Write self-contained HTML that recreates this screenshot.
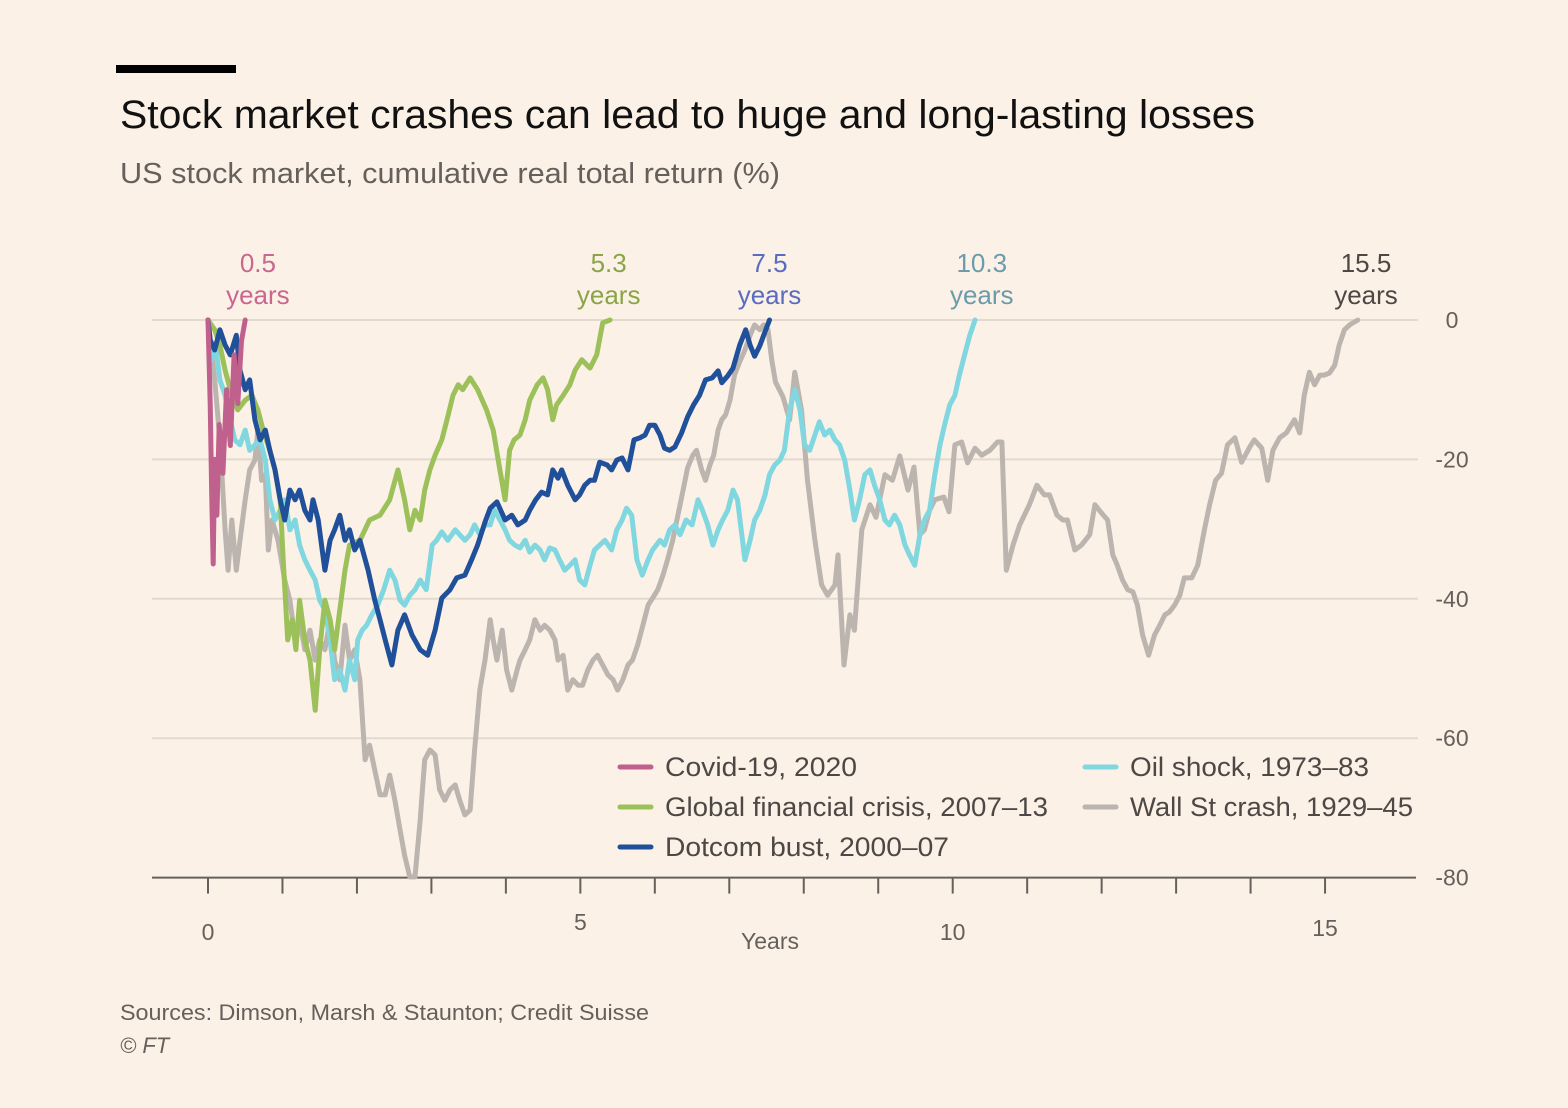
<!DOCTYPE html>
<html><head><meta charset="utf-8"><style>
html,body{margin:0;padding:0;background:#fcf1e6;}
svg{display:block;font-family:"Liberation Sans",sans-serif;}
</style></head><body>
<svg id="chart" width="1568" height="1108" viewBox="0 0 1568 1108">
<rect x="0" y="0" width="1568" height="1108" fill="#fcf1e6"/>
<rect x="116" y="65" width="120" height="8" fill="#000"/>
<text x="120" y="128" font-size="40" fill="#111" textLength="1135" lengthAdjust="spacingAndGlyphs">Stock market crashes can lead to huge and long-lasting losses</text>
<text x="120" y="183" font-size="29" fill="#66605c" textLength="660" lengthAdjust="spacingAndGlyphs">US stock market, cumulative real total return (%)</text>
<g id="grid"></g>
<g id="axis"></g>
<g id="series"></g>
<g id="ann"></g>
<g id="legend"></g>
<text x="120" y="1020" font-size="22" fill="#66605c" textLength="529" lengthAdjust="spacingAndGlyphs">Sources: Dimson, Marsh &amp; Staunton; Credit Suisse</text>
<text x="120" y="1053" font-size="22" fill="#66605c" font-style="italic">© FT</text>
</svg>
<script>
const yTicks=[0,-20,-40,-60,-80];
const xTicks=[0,5,10,15];
const covidX=[0,0.03,0.05,0.07,0.09,0.12,0.15,0.2,0.25,0.3,0.35,0.4,0.45,0.5];
const covidY=[0,-12,-25,-35,-20,-28,-15,-22,-10,-18,-5,-12,-3,0];
const gfcX=[0,.09,.16,.23,.30,.40,.50,.59,.67,.74,.83,.90,.97,1.01,1.07,1.13,1.18,1.23,1.30,1.37,1.44,1.50,1.57,1.64,1.70,1.77,1.84,1.90,2.04,2.17,2.31,2.44,2.55,2.64,2.71,2.78,2.85,2.91,2.98,3.05,3.14,3.21,3.29,3.36,3.42,3.52,3.62,3.74,3.83,3.92,3.99,4.05,4.11,4.19,4.26,4.32,4.42,4.50,4.56,4.63,4.68,4.77,4.86,4.93,5.02,5.13,5.22,5.30,5.40];
const gfcY=[0,-1.4,-3.6,-7.2,-10,-12.9,-11.5,-10.8,-12.9,-15.8,-18.7,-21.5,-25.8,-34.4,-45.9,-43,-47.3,-40.2,-45.9,-48.8,-56,-47.3,-40.2,-43,-47.3,-41.6,-35.9,-32.3,-31.6,-28.7,-28,-25.8,-21.5,-25.8,-30.1,-27.3,-28.7,-24.4,-21.5,-19.4,-17.2,-14.3,-10.8,-9.3,-10,-8.3,-10,-12.9,-15.8,-21.5,-25.8,-18.7,-17.2,-16.5,-14.3,-11.5,-9.3,-8.3,-10,-14.3,-12.2,-10.8,-9.3,-7.2,-5.7,-6.9,-5,-0.4,0];
const dotX=[0,.03,.09,.16,.23,.30,.38,.43,.50,.56,.63,.70,.77,.83,.90,.97,1.03,1.10,1.17,1.23,1.30,1.37,1.41,1.48,1.57,1.64,1.70,1.77,1.84,1.90,1.97,2.04,2.15,2.24,2.31,2.38,2.47,2.55,2.64,2.74,2.85,2.95,3.05,3.14,3.25,3.34,3.45,3.54,3.62,3.72,3.79,3.88,3.99,4.08,4.16,4.26,4.32,4.40,4.48,4.56,4.63,4.70,4.75,4.83,4.93,4.99,5.06,5.13,5.19,5.26,5.36,5.42,5.49,5.56,5.64,5.72,5.80,5.87,5.93,6.00,6.07,6.13,6.20,6.27,6.36,6.44,6.52,6.60,6.68,6.77,6.85,6.90,6.98,7.05,7.14,7.22,7.28,7.34,7.41,7.48,7.54];
const dotY=[0,-2.9,-4.3,-1.4,-3.6,-5,-2.2,-7.2,-10,-8.6,-14.3,-17.2,-15.8,-18.7,-21.5,-25.8,-28.7,-24.4,-25.8,-24.4,-27.3,-28.7,-25.8,-28.7,-35.9,-31.6,-30.1,-28,-31.6,-30.1,-33,-31.6,-35.9,-40.2,-43,-45.9,-49.5,-44.5,-42.3,-45.2,-47.3,-48.1,-44.5,-39.9,-38.7,-37,-36.6,-34.4,-32.3,-29,-27,-26.1,-28.7,-28,-29.4,-28.7,-27.3,-25.8,-24.7,-25.1,-21.5,-22.7,-21.5,-23.7,-25.8,-25.1,-23.7,-23,-23,-20.4,-20.8,-21.5,-20.1,-19.8,-21.5,-17.2,-16.9,-16.5,-15.1,-15.1,-16.5,-18.4,-18.7,-18.2,-16.2,-13.9,-12.2,-10.8,-8.6,-8.3,-7.3,-9,-8,-6.9,-3.6,-1.4,-3.6,-5.2,-3.7,-1.7,0];
const oilX=[0,.05,.11,.16,.23,.30,.36,.43,.50,.56,.63,.70,.77,.83,.90,.97,1.03,1.10,1.17,1.23,1.30,1.37,1.44,1.50,1.57,1.64,1.70,1.77,1.84,1.90,1.97,2.01,2.07,2.13,2.20,2.28,2.36,2.44,2.51,2.58,2.64,2.71,2.78,2.85,2.93,3.01,3.07,3.14,3.22,3.32,3.38,3.45,3.52,3.58,3.65,3.72,3.79,3.85,3.92,3.99,4.05,4.12,4.19,4.26,4.32,4.39,4.46,4.52,4.59,4.66,4.72,4.79,4.86,4.93,4.99,5.06,5.13,5.19,5.26,5.33,5.42,5.49,5.56,5.62,5.69,5.76,5.83,5.91,5.97,6.07,6.13,6.20,6.27,6.34,6.42,6.50,6.58,6.64,6.71,6.78,6.85,6.91,6.98,7.05,7.11,7.21,7.28,7.34,7.41,7.48,7.54,7.61,7.68,7.74,7.81,7.88,7.95,8.01,8.08,8.15,8.21,8.28,8.35,8.42,8.48,8.55,8.62,8.68,8.75,8.82,8.89,8.95,9.02,9.09,9.15,9.22,9.29,9.36,9.42,9.49,9.56,9.62,9.69,9.76,9.83,9.89,9.96,10.03,10.09,10.16,10.23,10.30];
const oilY=[0,-5.7,-4.3,-8.6,-10.8,-14.3,-17.2,-17.9,-15.8,-18.7,-17.9,-17.2,-20.1,-25.8,-28.7,-27.3,-25.8,-30.1,-28.7,-32.3,-34.4,-35.9,-37.3,-40.2,-41.6,-45.9,-51.6,-50.2,-53.1,-48.8,-51.6,-45.9,-44.5,-43.8,-42.3,-40.9,-38.7,-35.9,-37.3,-40.2,-40.9,-39.5,-38.7,-37.3,-38.7,-32.3,-31.6,-30.4,-31.6,-30.1,-30.8,-31.6,-30.8,-29.4,-30.8,-29.4,-29.4,-27.3,-28.7,-30.1,-31.6,-32.3,-32.7,-31.6,-33.3,-32.3,-33,-34.4,-32.7,-33,-34.4,-35.9,-35.2,-34.4,-37.3,-38,-35.2,-33,-32.3,-31.6,-33,-30.1,-28.7,-27,-28,-34.4,-36.6,-34.4,-33,-31.6,-32.3,-30.1,-29.4,-30.8,-28.7,-29.4,-25.8,-27.3,-29.4,-32.3,-30.1,-28.7,-27.3,-24.4,-25.8,-34.4,-31.6,-28.7,-27.3,-25.1,-22.2,-20.8,-20.1,-18.7,-12.9,-10,-12.9,-17.9,-18.7,-16.5,-14.6,-16.5,-15.8,-17.2,-17.9,-20.1,-24.4,-28.7,-25.8,-22.2,-21.5,-23.7,-25.8,-28.7,-29.4,-28,-29.4,-32.3,-33.7,-35.2,-30.8,-28.7,-27.3,-22.2,-17.9,-15.1,-12.2,-10.8,-7.9,-5,-2.2,0];
const wallX=[0,.09,.16,.23,.27,.32,.38,.43,.50,.56,.63,.67,.72,.77,.81,.86,.94,1.03,1.10,1.17,1.23,1.30,1.37,1.44,1.50,1.57,1.64,1.70,1.77,1.84,1.90,1.97,2.04,2.11,2.17,2.24,2.31,2.38,2.44,2.51,2.58,2.64,2.71,2.78,2.85,2.91,2.98,3.05,3.11,3.18,3.25,3.32,3.38,3.45,3.52,3.58,3.65,3.72,3.79,3.83,3.88,3.95,4.01,4.08,4.15,4.19,4.26,4.32,4.39,4.46,4.52,4.59,4.66,4.70,4.77,4.83,4.90,4.97,5.03,5.10,5.17,5.23,5.30,5.37,5.44,5.50,5.57,5.64,5.70,5.77,5.84,5.91,5.97,6.04,6.11,6.17,6.24,6.31,6.38,6.44,6.51,6.56,6.63,6.68,6.74,6.79,6.85,6.90,6.95,7.01,7.07,7.14,7.21,7.28,7.34,7.41,7.46,7.52,7.57,7.62,7.72,7.81,7.88,7.97,8.05,8.15,8.24,8.32,8.42,8.46,8.54,8.62,8.68,8.78,8.89,8.97,9.09,9.19,9.29,9.40,9.48,9.56,9.62,9.69,9.76,9.88,9.95,10.03,10.12,10.20,10.30,10.39,10.50,10.60,10.66,10.72,10.81,10.90,11.03,11.13,11.23,11.30,11.40,11.48,11.54,11.64,11.73,11.84,11.91,12.00,12.08,12.15,12.21,12.28,12.35,12.42,12.48,12.55,12.63,12.71,12.78,12.85,12.91,12.98,13.05,13.11,13.21,13.29,13.38,13.45,13.53,13.61,13.69,13.79,13.88,13.99,14.05,14.15,14.23,14.30,14.39,14.48,14.52,14.59,14.66,14.72,14.79,14.86,14.93,14.99,15.06,15.13,15.19,15.26,15.33,15.44];
const wallY=[0,-8.6,-17.2,-30.1,-35.9,-28.7,-35.9,-31.6,-25.8,-21.5,-20.1,-15.8,-23,-22.2,-33,-28.7,-31.6,-37.3,-40.2,-45.9,-43,-47.3,-44.5,-48.8,-45.9,-47.3,-43,-48.8,-51.6,-43.8,-48.8,-47.3,-51.6,-63.1,-61,-64.6,-68.1,-68.1,-65.3,-68.9,-73.2,-76.8,-79.9,-79.9,-71.7,-63.1,-61.7,-62.4,-67.4,-68.9,-67.4,-66.7,-68.9,-71,-70.3,-61.7,-53.1,-48.8,-43,-45.9,-48.8,-44.5,-50.2,-53.1,-50.2,-48.8,-47.3,-45.9,-43,-44.5,-43.8,-44.5,-45.9,-48.8,-48.1,-53.1,-51.6,-52.4,-52.4,-50.2,-48.8,-48.1,-49.5,-50.9,-51.6,-53.1,-51.6,-49.5,-48.8,-46.6,-43.8,-40.9,-39.9,-38.7,-36.6,-34.4,-31.6,-28,-24.4,-21.2,-19.4,-18.7,-21.5,-23,-20.8,-19.4,-15.8,-14.3,-13.6,-11.5,-7.9,-6,-4.3,-2.2,-0.7,-1.4,-0.7,-1.4,-5.7,-8.9,-11,-14.3,-7.5,-12.9,-23,-31.6,-38,-39.5,-38,-33.7,-49.5,-42.3,-44.5,-30.1,-26.5,-28.3,-22.2,-23,-19.5,-24.4,-21.1,-30.8,-30.1,-27.3,-25.8,-25.4,-27.5,-17.9,-17.5,-20.5,-18.4,-19.4,-18.7,-17.5,-17.5,-35.9,-32.3,-29.4,-26.5,-23.7,-25.1,-25.1,-28,-28.7,-28.7,-33,-32.3,-30.8,-26.5,-27.7,-28.7,-33.7,-35.2,-37.3,-38.7,-39,-40.9,-45.2,-48.1,-45.2,-43.8,-42.3,-41.9,-40.9,-39.5,-37,-37,-35.2,-30.1,-26.5,-23,-22,-17.9,-16.9,-20.4,-18.2,-17.2,-18.4,-23,-18.7,-16.9,-16.2,-15.5,-14.3,-16.2,-10.8,-7.5,-9.3,-7.9,-7.9,-7.6,-6.5,-3.6,-1.4,-0.7,0];
const recoveryYears=["0.5","5.3","7.5","10.3","15.5"];
const recoveryLabelAt=[0.67,5.38,7.54,10.39,15.55];

const NS="http://www.w3.org/2000/svg";
const X0=208,PXY=74.47,Y0=320,PXV=6.97;
function sx(v){return X0+v*PXY;}
function sy(v){return Y0-v*PXV;}
function mk(tag,attrs,parent,txt){const e=document.createElementNS(NS,tag);for(const k in attrs)e.setAttribute(k,attrs[k]);if(txt!==undefined)e.textContent=txt;parent.appendChild(e);return e;}
const grid=document.getElementById('grid'),axis=document.getElementById('axis'),ser=document.getElementById('series'),ann=document.getElementById('ann'),leg=document.getElementById('legend');
yTicks.forEach(t=>{
  if(t>-80){const l=mk('line',{x1:152,x2:1418,y1:sy(t),y2:sy(t),stroke:'#e2d9cf','stroke-width':2},grid);
  
  }
  const tx=mk('text',{x:1452,y:sy(t)+8,'font-size':23,fill:'#66605c','text-anchor':'middle'},grid,String(t));
  
  
});
const base=mk('line',{x1:152,x2:1416,y1:sy(-80),y2:sy(-80),stroke:'#66605c','stroke-width':2},axis);


for(let i=0;i<=15;i++){
  const tk=mk('line',{x1:sx(i),x2:sx(i),y1:sy(-80),y2:sy(-80)+16,stroke:'#66605c','stroke-width':2},axis);
  
  
}
const xLabOff=[0,-10,0,-4];
xTicks.forEach((t,i)=>{
  const tx=mk('text',{x:sx(t),y:940+xLabOff[i],'font-size':23,fill:'#66605c','text-anchor':'middle'},axis,String(t));
  
  
});
const xt=mk('text',{x:770,y:949,'font-size':23,fill:'#66605c','text-anchor':'middle'},axis,'Years');



function line(xs,ys,color,name){
  const d=xs.map((x,i)=>(i?'L':'M')+sx(x).toFixed(1)+','+sy(ys[i]).toFixed(1)).join('');
  const p=mk('path',{d:d,fill:'none',stroke:color,'stroke-width':5,'stroke-linejoin':'round','stroke-linecap':'round'},ser);
  
  
}
line(wallX,wallY,'#bcb4ae','wall-st-crash-line');
line(oilX,oilY,'#80d7e0','oil-shock-line');
line(gfcX,gfcY,'#9cc05a','gfc-line');
line(dotX,dotY,'#21509b','dotcom-line');
line(covidX,covidY,'#c0608c','covid-line');

const annCol=['#c9678f','#8aa548','#5a6cc0','#6c9bab','#4d4845'];
recoveryYears.forEach((v,i)=>{
  const a=mk('text',{x:sx(recoveryLabelAt[i]),y:272,'font-size':26,fill:annCol[i],'text-anchor':'middle'},ann,v);
  
  
  const b=mk('text',{x:sx(recoveryLabelAt[i]),y:304,'font-size':26,fill:annCol[i],'text-anchor':'middle'},ann,'years');
  
  
});
const legNames=['Covid-19, 2020','Global financial crisis, 2007–13','Dotcom bust, 2000–07','Oil shock, 1973–83','Wall St crash, 1929–45'];
const legCols=['#c0608c','#9cc05a','#21509b','#80d7e0','#bcb4ae'];
const legPos=[[620,767],[620,807],[620,847],[1085,767],[1085,807]];
const legW=[192,383,284,239,283];
legNames.forEach((n,i)=>{
  const [lx,ly]=legPos[i];
  const s=mk('line',{x1:lx,x2:lx+31,y1:ly,y2:ly,stroke:legCols[i],'stroke-width':5,'stroke-linecap':'round'},leg);
  
  
  const t=mk('text',{x:lx+45,y:ly+9,'font-size':27,fill:'#4d4845',textLength:legW[i],lengthAdjust:'spacingAndGlyphs'},leg,n);
  
  
});
</script>
</body></html>
